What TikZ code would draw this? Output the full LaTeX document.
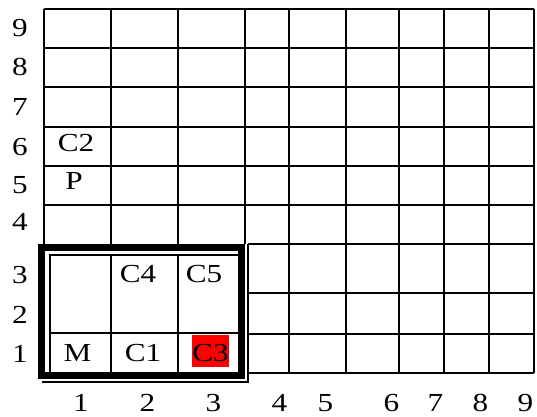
\documentclass[tikz,border=0pt]{standalone}
\usepackage{fontspec}
\setmainfont{Liberation Serif}[FakeStretch=1.2]
\usetikzlibrary{positioning}

\begin{document}
\begin{tikzpicture}[x=1pt, y=-1pt,
    gridline/.style={line width=2.2pt},
    thickframe/.style={line width=7pt},
    thinframe/.style={line width=2pt},
    lbl/.style={font=\fontsize{26}{30}\selectfont, anchor=base, inner sep=0pt},
    hilite/.style={lbl, fill=red, text height=26pt, text depth=6pt, minimum width=34pt}]
    \useasboundingbox (0,0) rectangle (537,416);

    % grid above the box
    \foreach \y in {9,48,87,127,166,205}
        \draw[gridline] (44,\y) -- (534,\y);
    \foreach \x in {44,111,178,245}
        \draw[gridline] (\x,9) -- (\x,244);
    \foreach \x in {289,346,399,444,489,534}
        \draw[gridline] (\x,9) -- (\x,373);
    % grid right of the box
    \foreach \y in {244,293,334,373}
        \draw[gridline] (248,\y) -- (534,\y);

    % inside the box
    \draw[gridline] (50,333) -- (238,333);
    \foreach \x in {111,178}
        \draw[gridline] (\x,255) -- (\x,373);

    % double frame
    \draw[thickframe] (41.7,247.8) rectangle (241.7,375);
    \draw[thinframe] (49.5,372) -- (49.5,254.7) -- (238,254.7);
    \draw[thinframe] (248.3,244) -- (248.3,381.7) -- (42,381.7);

    % row numbers
    \node[lbl] (r9) at (20,36) {9};
    \node[lbl] (r8) at (20,75) {8};
    \node[lbl] (r7) at (20,115) {7};
    \node[lbl] (r6) at (20,155) {6};
    \node[lbl] (r5) at (20,193) {5};
    \node[lbl] (r4) at (20,230) {4};
    \node[lbl] (r3) at (20,283) {3};
    \node[lbl] (r2) at (20,323) {2};
    \node[lbl] (r1) at (20,362) {1};

    % column numbers
    \node[lbl] (c1) at (81,411) {1};
    \node[lbl] (c2) at (147.5,411) {2};
    \node[lbl] (c3) at (213.5,411) {3};
    \node[lbl] (c4) at (279.5,411) {4};
    \node[lbl] (c5) at (325.5,411) {5};
    \node[lbl] (c6) at (391.5,411) {6};
    \node[lbl] (c7) at (435.5,411) {7};
    \node[lbl] (c8) at (480.5,411) {8};
    \node[lbl] (c9) at (525.5,411) {9};

    % cells
    \node[lbl] (C2) at (76,151) {C2};
    \node[lbl] (P) at (74,189) {P};
    \node[lbl] (C4) at (138,282) {C4};
    \node[lbl] (C5) at (204,282) {C5};
    \node[lbl] (M) at (77.5,361) {M};
    \node[lbl] (C1) at (143,361) {C1};
    \node[hilite] (C3) at (210.5,361) {C3};
\end{tikzpicture}
\end{document}
